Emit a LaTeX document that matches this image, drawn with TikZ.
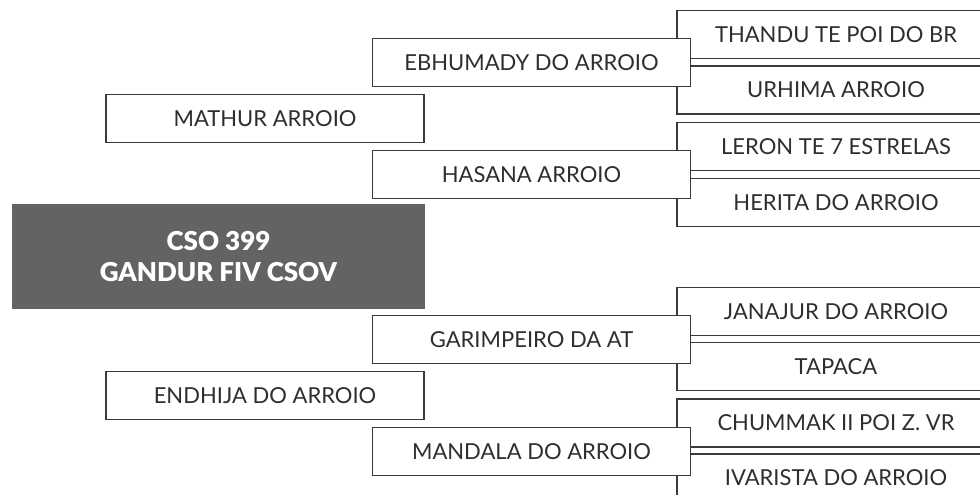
\documentclass[tikz,border=0pt]{standalone}
\usepackage{fontspec}
\setmainfont{Lato}
\newfontfamily\titlefont{Lato Black}
\definecolor{ln}{HTML}{3A3A3A}
\definecolor{tx}{HTML}{2E2E2E}
\definecolor{dk}{HTML}{636365}
\begin{document}
\begin{tikzpicture}[x=1pt,y=-1pt,
  box/.style={draw=ln, line width=1.3pt, fill=white, minimum width=318pt, minimum height=48pt, inner sep=0pt, text=tx, font=\fontsize{22}{26}\selectfont},
  titlebox/.style={fill=dk, minimum width=413pt, minimum height=105pt, text=white, font=\titlefont\fontsize{26}{31}\selectfont, align=center, inner sep=0pt}]
\useasboundingbox (0,0) rectangle (980,495);
\clip (0,0) rectangle (980,495);
% right column
\node[box] (r1a) at (836,34.7) {THANDU TE POI DO BR};
\node[box] (r1b) at (836,90.0) {URHIMA ARROIO};
\node[box] (r2a) at (836,146.4) {LERON TE 7 ESTRELAS};
\node[box] (r2b) at (836,202.4) {HERITA DO ARROIO};
\node[box] (r3a) at (836,311.2) {JANAJUR DO ARROIO};
\node[box] (r3b) at (836,366.7) {TAPACA};
\node[box] (r4a) at (836,423.0) {CHUMMAK II POI Z. VR};
\node[box] (r4b) at (836,478.0) {IVARISTA DO ARROIO};
% middle column
\node[box] (m1) at (531.5,62.5) {EBHUMADY DO ARROIO};
\node[box] (m2) at (531.5,174.4) {HASANA ARROIO};
\node[box] (m3) at (531.5,339.2) {GARIMPEIRO DA AT};
\node[box] (m4) at (531.5,451.5) {MANDALA DO ARROIO};
% left column
\node[box] (l1) at (265,118.5) {MATHUR ARROIO};
\node[box] (l2) at (265,395.2) {ENDHIJA DO ARROIO};
% title
\node[titlebox] (t) at (218.5,256.7) {CSO 399\\GANDUR FIV CSOV};
\end{tikzpicture}
\end{document}
